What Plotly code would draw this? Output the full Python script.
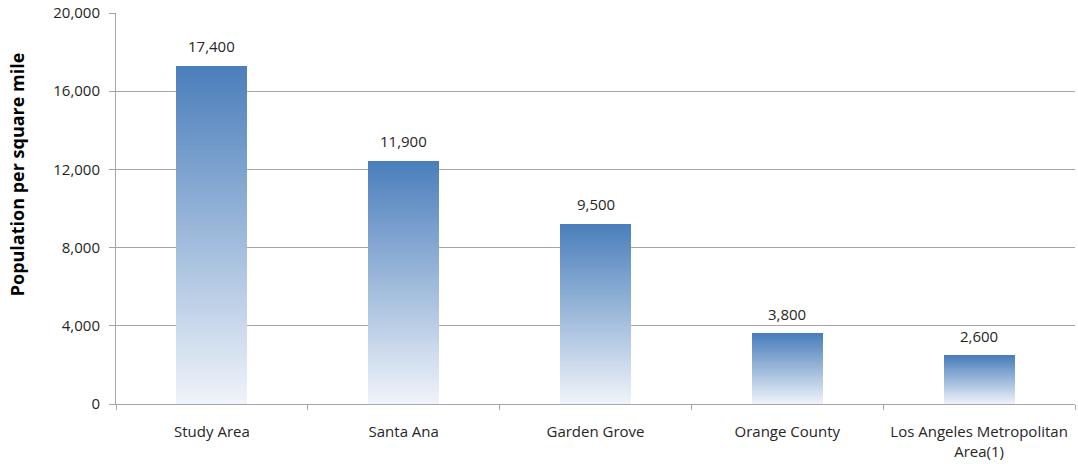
import plotly.graph_objects as go

categories = ["Study Area", "Santa Ana", "Garden Grove", "Orange County",
              "Los Angeles Metropolitan<br>Area(1)"]
bar_values = [17300, 12450, 9220, 3590, 2460]
label_texts = ["17,400", "11,900", "9,500", "3,800", "2,600"]
y_ticks = [0, 4000, 8000, 12000, 16000, 20000]

N = 80
top_rgb = (74, 126, 187)
bot_rgb = (240, 244, 250)

fig = go.Figure()
for i in range(N):
    t = (i + 0.5) / N  # 0 at bottom, 1 at top
    c = tuple(round(bot_rgb[k] + (top_rgb[k] - bot_rgb[k]) * t) for k in range(3))
    fig.add_trace(go.Bar(
        x=categories, y=[v / N for v in bar_values],
        marker=dict(color="rgb(%d,%d,%d)" % c, line=dict(width=0)),
        width=0.37, hoverinfo="skip", showlegend=False,
    ))

for cat, v, lab in zip(categories, bar_values, label_texts):
    fig.add_annotation(x=cat, y=v, text=lab, showarrow=False, yanchor="bottom",
                       yshift=8, font=dict(size=15, color="#262626"))

fig.add_annotation(xref="paper", yref="paper", x=-0.103, y=0.588,
                   xanchor="center", yanchor="middle", textangle=-90,
                   text="<b>Population per square mile</b>", showarrow=False,
                   font=dict(size=18, color="#000"))

fig.update_layout(
    barmode="stack", bargap=0,
    width=1078, height=464,
    margin=dict(l=116, r=3, t=13, b=60),
    plot_bgcolor="white", paper_bgcolor="white",
    font=dict(family="Open Sans", size=15, color="#262626"),
    showlegend=False,
)
fig.update_yaxes(
    range=[0, 20000], tickvals=y_ticks, tickformat=",",
    showgrid=True, gridcolor="#a6a6a6", gridwidth=1,
    showline=True, linecolor="#a6a6a6", linewidth=1,
    ticks="outside", ticklen=6, tickcolor="#a6a6a6", ticklabelstandoff=6,
    zeroline=False, automargin=False,
)
fig.update_xaxes(
    showline=True, linecolor="#a6a6a6", linewidth=1,
    ticks="outside", ticklen=5, tickcolor="#a6a6a6", tickson="boundaries",
    ticklabelstandoff=14, tickangle=0, automargin=False,
    showgrid=False,
)
fig.write_html("out.html")
